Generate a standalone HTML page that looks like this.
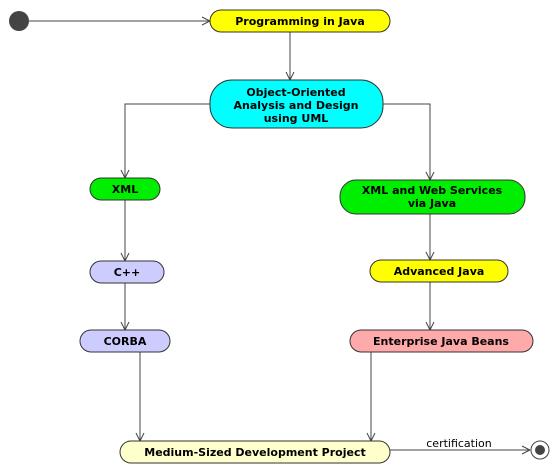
<!DOCTYPE html>
<html><head><style>body{margin:0;background:#fff}svg{display:block}text{font-family:"DejaVu Sans","Liberation Sans",sans-serif;font-size:11px;font-weight:bold;text-anchor:middle}</style></head><body>
<svg width="559" height="472" viewBox="0 0 559 472" xmlns="http://www.w3.org/2000/svg">
<defs><marker id="a" markerWidth="10" markerHeight="10" refX="9" refY="5" orient="auto" markerUnits="userSpaceOnUse"><path d="M1,1 L9,5 L1,9" fill="none" stroke="#444" stroke-width="1"/></marker></defs>
<g stroke="#444" stroke-width="1" fill="none">
<line x1="29" y1="21" x2="210" y2="21" marker-end="url(#a)"/>
<line x1="290" y1="32" x2="290" y2="80" marker-end="url(#a)"/>
<polyline points="210,104 125,104 125,178" marker-end="url(#a)"/>
<polyline points="383,104 430,104 430,180" marker-end="url(#a)"/>
<line x1="125" y1="200" x2="125" y2="261" marker-end="url(#a)"/>
<line x1="125" y1="283" x2="125" y2="330" marker-end="url(#a)"/>
<line x1="430" y1="214" x2="430" y2="260" marker-end="url(#a)"/>
<line x1="430" y1="282" x2="430" y2="330" marker-end="url(#a)"/>
<line x1="140" y1="352" x2="140" y2="441" marker-end="url(#a)"/>
<line x1="371" y1="352" x2="371" y2="441" marker-end="url(#a)"/>
<line x1="390" y1="450" x2="530" y2="450" marker-end="url(#a)"/>
</g>
<circle cx="19" cy="21" r="10" fill="#444"/>
<g stroke="#333" stroke-width="1">
<rect x="210" y="10" width="180" height="22" rx="11" fill="#ffff00"/>
<rect x="210" y="80" width="173" height="48" rx="22" fill="#00ffff"/>
<rect x="90" y="178" width="70" height="22" rx="11" fill="#00ee00"/>
<rect x="340" y="180" width="185" height="34" rx="16" fill="#00ee00"/>
<rect x="90" y="261" width="74" height="22" rx="11" fill="#ccccff"/>
<rect x="370" y="260" width="138" height="22" rx="11" fill="#ffff00"/>
<rect x="80" y="330" width="90" height="22" rx="11" fill="#ccccff"/>
<rect x="350" y="330" width="183" height="22" rx="11" fill="#ffaaaa"/>
<rect x="120" y="441" width="270" height="22" rx="11" fill="#ffffcc"/>
</g>
<circle cx="540" cy="450" r="9" fill="#fff" stroke="#444"/>
<circle cx="540" cy="450" r="5" fill="#444"/>
<text x="300" y="25">Programming  in Java</text>
<text x="296" y="96">Object-Oriented</text>
<text x="296" y="109">Analysis and Design</text>
<text x="296" y="122">using UML</text>
<text x="125" y="193">XML</text>
<text x="432" y="194">XML  and Web Services</text>
<text x="432" y="207">via Java</text>
<text x="127" y="276">C++</text>
<text x="439" y="275">Advanced  Java</text>
<text x="125" y="345">CORBA</text>
<text x="441" y="345">Enterprise  Java Beans</text>
<text x="255" y="456">Medium-Sized Development Project</text>
<text x="459" y="447" style="font-weight:normal">certification</text>
</svg></body></html>
